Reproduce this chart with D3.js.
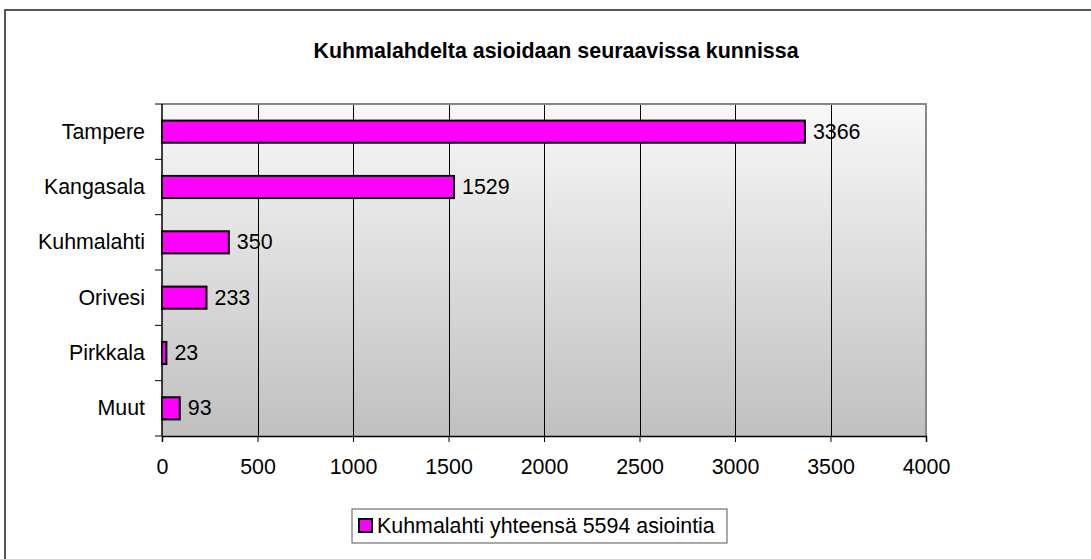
<!DOCTYPE html>
<html>
<head>
<meta charset="utf-8">
<script src="https://cdn.jsdelivr.net/npm/d3@7"></script>
<style>
  html, body { margin: 0; padding: 0; background: #fff; }
  svg { display: block; font-family: "Liberation Sans", Arial, sans-serif; }
</style>
</head>
<body>
<div id="chart"></div>
<script>
// data
var categories = ["Tampere", "Kangasala", "Kuhmalahti", "Orivesi", "Pirkkala", "Muut"];
var values = [3366, 1529, 350, 233, 23, 93];
var xTicks = [0, 500, 1000, 1500, 2000, 2500, 3000, 3500, 4000];
var titleText = "Kuhmalahdelta asioidaan seuraavissa kunnissa";
var legendText = "Kuhmalahti yhteensä 5594 asiointia";

var full_width = 1091,
    full_height = 559,
    margin = { top: 104, left: 162, right: 165, bottom: 123 },
    width = full_width - margin.left - margin.right,
    height = full_height - margin.top - margin.bottom,
    font_size = 21.4,
    bar_color = "#ff00ff";

var svg = d3.select("#chart").append("svg")
    .attr("width", full_width)
    .attr("height", full_height);

// outer chart frame (only top and left edge fall inside the picture)
svg.append("rect")
    .attr("x", 5)
    .attr("y", 10)
    .attr("width", full_width + 20)
    .attr("height", full_height + 20)
    .attr("fill", "#fff")
    .attr("stroke", "#222")
    .attr("stroke-width", 1.5);

svg.append("text")
    .attr("x", 556)
    .attr("y", 58)
    .attr("text-anchor", "middle")
    .style("font-size", font_size + "px")
    .style("font-weight", "bold")
    .text(titleText);

var defs = svg.append("defs");
var grad = defs.append("linearGradient")
    .attr("id", "plotbg")
    .attr("x1", 0).attr("y1", 0)
    .attr("x2", 0).attr("y2", 1);
grad.append("stop").attr("offset", "0%").attr("stop-color", "#f8f8f8");
grad.append("stop").attr("offset", "100%").attr("stop-color", "#c0c0c0");

var x = d3.scaleLinear()
    .domain([0, 4000])
    .range([0, width]);

var y = d3.scaleBand()
    .domain(categories)
    .range([0, height])
    .paddingInner(0.6)
    .paddingOuter(0.3);

var g = svg.append("g")
    .attr("transform", "translate(" + margin.left + "," + margin.top + ")");

// plot area background
g.append("rect")
    .attr("width", width)
    .attr("height", height)
    .attr("fill", "url(#plotbg)");

// vertical grid lines
g.selectAll(".grid")
    .data(xTicks.filter(function (d) { return d > 0 && d < 4000; }))
    .enter().append("line")
    .attr("class", "grid")
    .attr("x1", function (d) { return Math.round(x(d)) + 0.5; })
    .attr("x2", function (d) { return Math.round(x(d)) + 0.5; })
    .attr("y1", 0)
    .attr("y2", height)
    .attr("stroke", "#000")
    .attr("stroke-width", 1);

// gray border on top and right
g.append("path")
    .attr("d", "M0,0H" + width + "V" + height)
    .attr("fill", "none")
    .attr("stroke", "#888")
    .attr("stroke-width", 2);

// bars
g.selectAll(".bar")
    .data(values)
    .enter().append("rect")
    .attr("class", "bar")
    .attr("x", 0)
    .attr("y", function (d, i) { return y(categories[i]); })
    .attr("width", function (d) { return x(d); })
    .attr("height", y.bandwidth())
    .attr("fill", bar_color)
    .attr("stroke", "#000")
    .attr("stroke-width", 2);

// value labels
g.selectAll(".val")
    .data(values)
    .enter().append("text")
    .attr("class", "val")
    .attr("x", function (d) { return x(d) + 8; })
    .attr("y", function (d, i) { return y(categories[i]) + y.bandwidth() / 2; })
    .attr("dy", "0.33em")
    .style("font-size", font_size + "px")
    .text(function (d) { return d; });

// y axis: line, ticks at band edges, labels
var step = height / categories.length;
g.append("line")
    .attr("x1", 0).attr("x2", 0)
    .attr("y1", 0).attr("y2", height)
    .attr("stroke", "#000").attr("stroke-width", 1.5);

g.selectAll(".ytick")
    .data(d3.range(categories.length + 1))
    .enter().append("line")
    .attr("class", "ytick")
    .attr("x1", -7).attr("x2", 0)
    .attr("y1", function (d) { return d * step; })
    .attr("y2", function (d) { return d * step; })
    .attr("stroke", "#000");

g.selectAll(".ylab")
    .data(categories)
    .enter().append("text")
    .attr("class", "ylab")
    .attr("x", -17)
    .attr("y", function (d) { return y(d) + y.bandwidth() / 2; })
    .attr("dy", "0.33em")
    .attr("text-anchor", "end")
    .style("font-size", font_size + "px")
    .text(function (d) { return d; });

// x axis
var xAxis = g.append("g")
    .attr("transform", "translate(0," + height + ")")
    .call(d3.axisBottom(x).tickValues(xTicks).tickSize(6).tickPadding(17).tickFormat(d3.format("d")));
xAxis.select(".domain").attr("stroke", "#000").attr("stroke-width", 1.5);
xAxis.selectAll(".tick line").attr("stroke", "#000");
xAxis.selectAll("text")
    .style("font-size", font_size + "px")
    .style("font-family", "'Liberation Sans', Arial, sans-serif")
    .attr("fill", "#000");

// legend
var legend = svg.append("g")
    .attr("transform", "translate(352,509)");
legend.append("rect")
    .attr("width", 375)
    .attr("height", 34)
    .attr("fill", "#fff")
    .attr("stroke", "#555")
    .attr("stroke-width", 1);
legend.append("rect")
    .attr("x", 7)
    .attr("y", 10)
    .attr("width", 13)
    .attr("height", 13)
    .attr("fill", bar_color)
    .attr("stroke", "#000")
    .attr("stroke-width", 2);
legend.append("text")
    .attr("x", 25)
    .attr("y", 24)
    .style("font-size", font_size + "px")
    .text(legendText);
</script>
</body>
</html>
